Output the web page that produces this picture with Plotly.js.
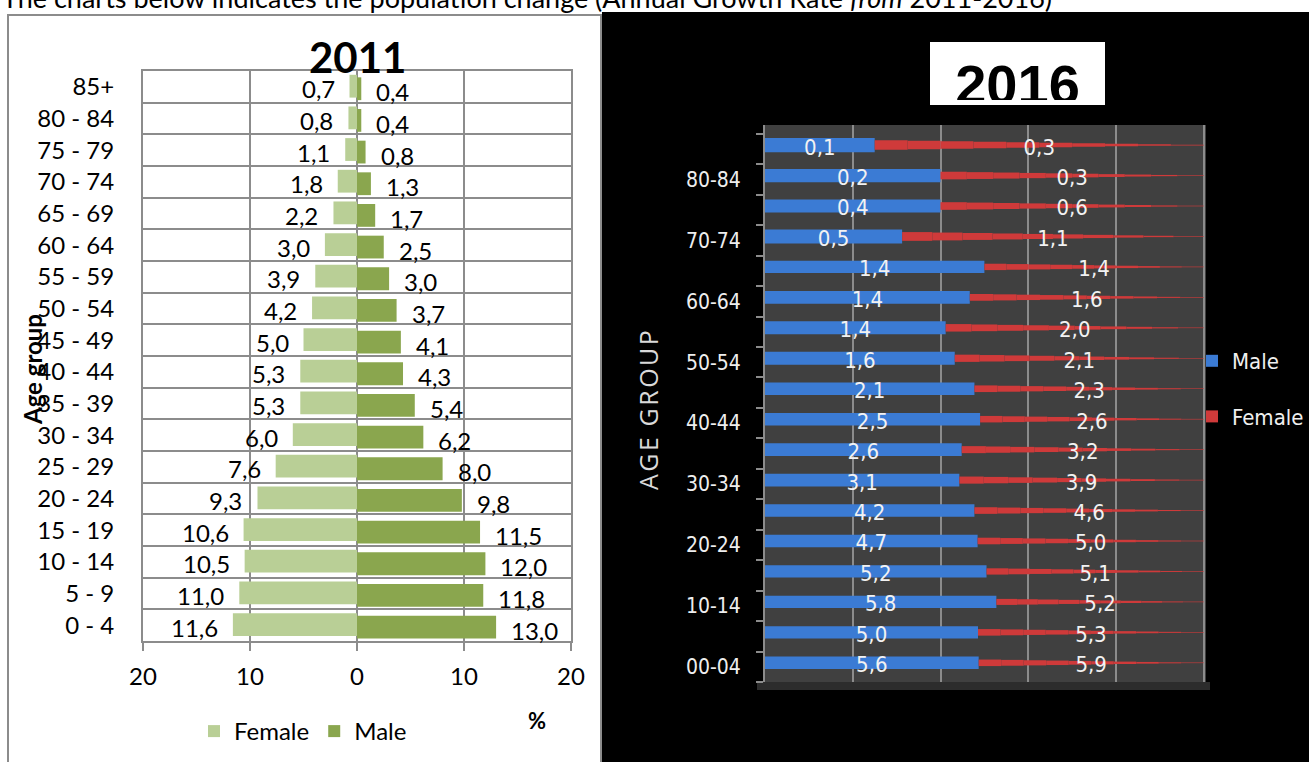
<!DOCTYPE html>
<html>
<head>
<meta charset="utf-8">
<script src="https://cdn.plot.ly/plotly-3.0.1.min.js"></script>
<style>html,body{margin:0;padding:0;background:#fff;overflow:hidden;width:1309px;height:762px;}#chart{width:1309px;height:762px;}</style>
</head>
<body>
<div id="chart"></div>
<script>
// ---------- DATA ----------
const caption = 'The charts below indicates the population change (Annual Growth Rate <i>from</i> 2011-2016)';
const title2011 = '2011';
const title2016 = '2016';

const ageGroups2011 = ['0 - 4','5 - 9','10 - 14','15 - 19','20 - 24','25 - 29','30 - 34','35 - 39','40 - 44','45 - 49','50 - 54','55 - 59','60 - 64','65 - 69','70 - 74','75 - 79','80 - 84','85+'];
const female2011 = [11.6,11.0,10.5,10.6,9.3,7.6,6.0,5.3,5.3,5.0,4.2,3.9,3.0,2.2,1.8,1.1,0.8,0.7];
const male2011   = [13.0,11.8,12.0,11.5,9.8,8.0,6.2,5.4,4.3,4.1,3.7,3.0,2.5,1.7,1.3,0.8,0.4,0.4];
const xTickVals2011 = [-20,-10,0,10,20];
const xTickText2011 = ['20','10','0','10','20'];

const ageGroups2016 = ['00-04','05-09','10-14','15-19','20-24','25-29','30-34','35-39','40-44','45-49','50-54','55-59','60-64','65-69','70-74','75-79','80-84','85+'];
const ageTickText2016 = ['00-04','','10-14','','20-24','','30-34','','40-44','','50-54','','60-64','','70-74','','80-84',''];
const male2016   = [5.6,5.0,5.8,5.2,4.7,4.2,3.1,2.6,2.5,2.1,1.6,1.4,1.4,1.4,0.5,0.4,0.2,0.1];
const female2016 = [5.9,5.3,5.2,5.1,5.0,4.6,3.9,3.2,2.6,2.3,2.1,2.0,1.6,1.4,1.1,0.6,0.3,0.3];

// ---------- HELPERS ----------
const W = 1309, H = 762;
const px = v => v / W;
const py = v => 1 - v / H;
const fmt = v => v.toFixed(1).replace('.', ',');

const FONT_L = 'Lato, "Open Sans", "Liberation Sans", sans-serif';
const FONT_N = '"Liberation Sans Narrow", "DejaVu Sans Condensed", Roboto, sans-serif';

// 100% stacked shares for 2016 (cone-shaped bars, drawn as tapering stacked segments)
const malePct = male2016.map((m, i) => m / (m + female2016[i]) * 100);
const femalePct = female2016.map((f, i) => f / (male2016[i] + f) * 100);
const CONE_CENTER = 0.13;        // bar axis sits a little above the row centre
const CONE_BASE_M = 0.54;        // cone thickness at the base (category units)
const CONE_BASE_F = 0.44;
const MALE_SEGS = 1, FEMALE_SEGS = 10;

const traces = [
  {
    type: 'bar', orientation: 'h', name: 'Female',
    y: ageGroups2011, x: female2011.map(v => -v),
    width: 0.72, offset: -0.34,
    marker: {color: '#b9cf96'},
    xaxis: 'x', yaxis: 'y', legend: 'legend', hoverinfo: 'skip'
  },
  {
    type: 'bar', orientation: 'h', name: 'Male',
    y: ageGroups2011, x: male2011,
    width: 0.72, offset: -0.42,
    marker: {color: '#8aa64e'},
    xaxis: 'x', yaxis: 'y', legend: 'legend', hoverinfo: 'skip'
  }
];

function coneSegments(pct, startPct, nSeg, base, name, color, group) {
  for (let s = 0; s < nSeg; s++) {
    const seg = pct.map(p => p / nSeg);
    const widths = pct.map((p, i) => {
      const mid = startPct[i] + p * (s + 0.5) / nSeg;
      return Math.max(0.02, base * (1 - mid / 100));
    });
    traces.push({
      type: 'bar', orientation: 'h', name: name,
      y: ageGroups2016, x: seg,
      width: widths, offset: widths.map(w => CONE_CENTER - w / 2),
      marker: {color: color, line: {width: 0}},
      xaxis: 'x2', yaxis: 'y2', legend: 'legend2', legendgroup: group,
      showlegend: s === 0, hoverinfo: 'skip'
    });
  }
}
coneSegments(malePct, malePct.map(() => 0), MALE_SEGS, CONE_BASE_M, 'Male', '#3b7bd4', 'm16');
coneSegments(femalePct, malePct, FEMALE_SEGS, CONE_BASE_F, 'Female', '#cf3a3a', 'f16');

traces.push(
  {
    type: 'scatter', mode: 'text', showlegend: false, hoverinfo: 'skip',
    y: ageGroups2016, x: malePct.map(p => p / 2),
    text: male2016.map(fmt), textposition: 'middle center', cliponaxis: false,
    textfont: {family: FONT_N, size: 22, color: '#f2f2f2'},
    xaxis: 'x2', yaxis: 'y2'
  },
  {
    type: 'scatter', mode: 'text', showlegend: false, hoverinfo: 'skip',
    y: ageGroups2016, x: malePct.map(p => (p + 100) / 2),
    text: female2016.map(fmt), textposition: 'middle center', cliponaxis: false,
    textfont: {family: FONT_N, size: 22, color: '#f2f2f2'},
    xaxis: 'x2', yaxis: 'y2'
  },
  {
    type: 'scatter', mode: 'text', showlegend: false, hoverinfo: 'skip',
    x: [0.5], y: [0.17], text: ['<b>' + title2016 + '</b>'],
    textposition: 'middle center', cliponaxis: true,
    textfont: {family: '"Liberation Sans", Arial, sans-serif', size: 56, color: '#000'},
    xaxis: 'x3', yaxis: 'y3'
  }
);

const annotations = [];
ageGroups2011.forEach((g, i) => {
  annotations.push({xref: 'x', yref: 'y', x: -female2011[i], y: g, text: fmt(female2011[i]),
    xanchor: 'right', yanchor: 'middle', xshift: -13, yshift: -2, showarrow: false,
    font: {family: FONT_L, size: 24, color: '#000'}});
  annotations.push({xref: 'x', yref: 'y', x: male2011[i], y: g, text: fmt(male2011[i]),
    xanchor: 'left', yanchor: 'middle', xshift: 13, yshift: -5, showarrow: false,
    font: {family: FONT_L, size: 24, color: '#000'}});
});
annotations.push(
  {xref: 'paper', yref: 'paper', x: 0, y: py(-2), xanchor: 'left', yanchor: 'middle', showarrow: false,
   text: caption, font: {family: FONT_L, size: 27, color: '#000'}},
  {xref: 'paper', yref: 'paper', x: px(357), y: py(57), xanchor: 'center', yanchor: 'middle', showarrow: false,
   text: '<b>' + title2011 + '</b>', font: {family: FONT_L, size: 42, color: '#000'}},
  {xref: 'paper', yref: 'paper', x: px(33), y: py(370), xanchor: 'center', yanchor: 'middle', showarrow: false,
   textangle: -90, text: '<b>Age group</b>', font: {family: FONT_L, size: 24, color: '#000'}},
  {xref: 'paper', yref: 'paper', x: px(537), y: py(720), xanchor: 'center', yanchor: 'middle', showarrow: false,
   text: '<b>%</b>', font: {family: FONT_L, size: 22, color: '#000'}},
  {xref: 'paper', yref: 'paper', x: px(648), y: py(410), xanchor: 'center', yanchor: 'middle', showarrow: false,
   textangle: -90, text: 'A\u200AG\u200AE\u2009 G\u200AR\u200AO\u200AU\u200AP',
   font: {family: '"Open Sans", "DejaVu Sans", sans-serif', size: 25, color: '#d9d9d9'}}
);

const shapes = [
  {type: 'rect', xref: 'paper', yref: 'paper', x0: px(8), x1: px(601), y0: -0.02, y1: py(15),
   fillcolor: '#ffffff', line: {color: '#8c8c8c', width: 2}, layer: 'below'},
  {type: 'rect', xref: 'paper', yref: 'paper', x0: px(602), x1: 1.01, y0: -0.02, y1: py(12),
   fillcolor: '#000000', line: {width: 0}, layer: 'below'},
  {type: 'rect', xref: 'paper', yref: 'paper', x0: px(765), x1: px(1206), y0: py(682), y1: py(125),
   fillcolor: '#404040', line: {width: 0}, layer: 'below'},
  {type: 'rect', xref: 'paper', yref: 'paper', x0: px(757), x1: px(1210), y0: py(690), y1: py(682),
   fillcolor: '#2c2c2c', line: {width: 0}, layer: 'below'},
  {type: 'rect', xref: 'paper', yref: 'paper', x0: px(930), x1: px(1105), y0: py(105), y1: py(42),
   fillcolor: '#ffffff', line: {width: 0}, layer: 'below'}
];

const layout = {
  width: W, height: H,
  margin: {l: 0, r: 0, t: 0, b: 0},
  paper_bgcolor: '#ffffff', plot_bgcolor: 'rgba(0,0,0,0)',
  separators: ',.',
  barmode: 'relative',
  showlegend: true,
  xaxis: {
    domain: [px(143), px(571)], range: [-20, 20], anchor: 'y',
    tickvals: xTickVals2011, ticktext: xTickText2011,
    showgrid: true, gridcolor: '#8c8c8c', gridwidth: 2,
    zeroline: true, zerolinecolor: '#8c8c8c', zerolinewidth: 2,
    showline: true, mirror: true, linecolor: '#8c8c8c', linewidth: 2,
    ticks: 'outside', ticklen: 8, tickcolor: '#8c8c8c', tickwidth: 2,
    ticklabelstandoff: 5,
    tickfont: {family: FONT_L, size: 24, color: '#000'}, fixedrange: true
  },
  yaxis: {
    domain: [py(641), py(71)], anchor: 'x', type: 'category',
    categoryorder: 'array', categoryarray: ageGroups2011, range: [-0.5, 17.5],
    tickson: 'boundaries', showgrid: true, gridcolor: '#8c8c8c', gridwidth: 2,
    showline: true, mirror: true, linecolor: '#8c8c8c', linewidth: 2,
    ticks: '', ticklabelstandoff: 22,
    tickfont: {family: FONT_L, size: 24, color: '#000'}, fixedrange: true
  },
  xaxis2: {
    domain: [px(765), px(1206)], range: [0, 100.5], anchor: 'y2',
    tickvals: [0, 20, 40, 60, 80, 100], showticklabels: false,
    showgrid: true, gridcolor: '#8c8c8c', gridwidth: 2, zeroline: false,
    showline: false, ticks: '', fixedrange: true
  },
  yaxis2: {
    domain: [py(682), py(125)], anchor: 'x2', type: 'category',
    categoryorder: 'array', categoryarray: ageGroups2016, range: [-0.5, 17.79],
    tickmode: 'array', tickvals: ageGroups2016, ticktext: ageTickText2016,
    tickson: 'boundaries', showgrid: false,
    showline: true, linecolor: '#8c8c8c', linewidth: 2,
    ticks: 'outside', ticklen: 7, tickcolor: '#8c8c8c', tickwidth: 2,
    ticklabelstandoff: 18,
    tickfont: {family: FONT_N, size: 21, color: '#eeeeee'}, fixedrange: true
  },
  xaxis3: {domain: [px(930), px(1105)], range: [0, 1], anchor: 'y3', visible: false, fixedrange: true},
  yaxis3: {domain: [py(100), py(42)], range: [0, 1], anchor: 'x3', visible: false, fixedrange: true},
  legend: {
    x: px(194), y: py(709), xanchor: 'left', yanchor: 'top', orientation: 'h',
    bgcolor: 'rgba(0,0,0,0)', font: {family: FONT_L, size: 24, color: '#000'}, traceorder: 'normal'
  },
  legend2: {
    x: px(1192), y: py(340), xanchor: 'left', yanchor: 'top', orientation: 'v',
    bgcolor: 'rgba(0,0,0,0)', font: {family: FONT_N, size: 22, color: '#f0f0f0'},
    traceorder: 'grouped', tracegroupgap: 24
  },
  shapes: shapes,
  annotations: annotations
};

Plotly.newPlot('chart', traces, layout, {staticPlot: true, displayModeBar: false});
</script>
</body>
</html>
